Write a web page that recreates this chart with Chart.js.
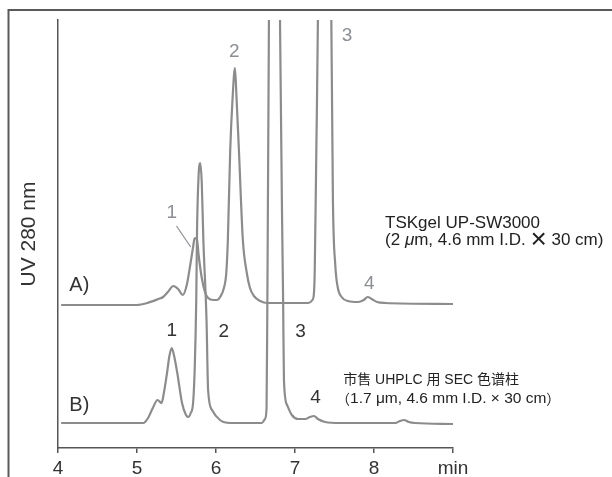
<!DOCTYPE html>
<html>
<head>
<meta charset="utf-8">
<script src="https://cdn.jsdelivr.net/npm/chart.js@4.4.1/dist/chart.umd.min.js"></script>
<style>
  html, body { margin: 0; padding: 0; background: #fff; }
  #wrap { width: 612px; height: 477px; }
</style>
</head>
<body>
<div id="wrap"><canvas id="chrom" width="612" height="477"></canvas></div>
<script>
// retention time (min) / detector response
// A) TSKgel UP-SW3000 (drawn offset above B)
const timeA = [4.04, 5.00, 5.13, 5.27, 5.33, 5.39, 5.46, 5.52, 5.58, 5.63, 5.67, 5.71, 5.73, 5.76, 5.78,
               5.82, 5.86, 5.90, 5.97, 6.01, 6.06, 6.10, 6.13, 6.15, 6.18, 6.21, 6.24, 6.26, 6.29, 6.34,
               6.39, 6.43, 6.48, 6.56, 6.65, 7.16, 7.22, 7.24, 7.25, 7.27, 7.29, 7.37, 7.46, 7.48, 7.51,
               7.54, 7.59, 7.67, 7.80, 7.87, 7.92, 7.97, 8.04, 8.14, 9.00];
const respA = [143, 143, 145, 149, 151, 156, 162, 159, 153, 163, 181, 201, 210, 208, 193,
               170, 156, 150, 148, 148, 152, 160, 175, 208, 298, 350, 380, 350, 298, 208,
               175, 160, 152, 147, 145, 145, 148, 155, 178, 298, 428, 1500, 428, 248, 183,
               161, 151, 147, 146, 148, 151, 149, 146, 145, 144];

// B) commercial UHPLC SEC column
const timeB = [4.04, 5.00, 5.08, 5.14, 5.20, 5.26, 5.31, 5.34, 5.38, 5.41, 5.44, 5.47, 5.51, 5.57, 5.62,
               5.65, 5.68, 5.71, 5.73, 5.75, 5.76, 5.78, 5.80, 5.82, 5.84, 5.88, 5.90, 5.95, 6.05, 6.18,
               6.58, 6.62, 6.64, 6.65, 6.67, 6.74, 6.81, 6.85, 6.86, 6.90, 6.96, 7.04, 7.13, 7.19, 7.24,
               7.29, 7.38, 7.57, 8.27, 8.33, 8.38, 8.44, 8.52, 9.00];
const respB = [25, 25, 25, 30, 40, 48, 45, 55, 75, 92, 100, 92, 75, 45, 33,
               31, 35, 45, 78, 148, 218, 273, 285, 265, 208, 128, 58, 38, 28, 25,
               25, 29, 40, 145, 428, 1500, 428, 145, 68, 43, 33, 29, 29, 31, 32,
               29, 26, 25, 25, 27, 28, 26, 25, 24];

const xTicks = [4, 5, 6, 7, 8, 9];   // last one is printed as "min"

// peak numbers
const peakNumA = ['1', '2', '3', '4'];
const peakTimeA = [5.44, 6.23, 7.66, 7.94];
const peakLevelA = [235, 396, 412, 164];
const peakNumB = ['1', '2', '3', '4'];
const peakTimeB = [5.44, 6.10, 7.07, 7.26];
const peakLevelB = [117, 116, 116, 50];

const SANS = '"Liberation Sans", Arial, "Noto Sans CJK SC", sans-serif';
const CJK = '"Noto Sans CJK SC", sans-serif';

// draw a row of [text, font] pieces starting at x
function drawRuns(ctx, runs, x, y) {
    runs.forEach(([s, f]) => {
        ctx.font = f;
        ctx.fillText(s, x, y);
        x += ctx.measureText(s).width;
    });
}

const annotate = {
    id: 'annotate',
    beforeDraw(chart) {
        // outer frame of the figure (cut off at right/bottom)
        const c = chart.ctx;
        c.save();
        c.strokeStyle = '#5a5a5a';
        c.lineWidth = 2;
        c.beginPath();
        c.moveTo(8.5, 477);
        c.lineTo(8.5, 10);
        c.lineTo(612, 10);
        c.stroke();
        c.restore();
    },
    afterDatasetsDraw(chart) {
        const { ctx, scales: { x, y } } = chart;
        const px = t => x.getPixelForValue(t);
        const py = v => y.getPixelForValue(v);
        ctx.save();
        ctx.textBaseline = 'middle';
        ctx.textAlign = 'center';

        ctx.font = '19px ' + SANS;
        ctx.fillStyle = '#8b8e96';
        peakNumA.forEach((s, i) => ctx.fillText(s, px(peakTimeA[i]), py(peakLevelA[i])));
        ctx.fillStyle = '#333';
        peakNumB.forEach((s, i) => ctx.fillText(s, px(peakTimeB[i]), py(peakLevelB[i])));

        // leader line to A peak 1
        ctx.strokeStyle = '#8b8e96';
        ctx.lineWidth = 1.2;
        ctx.beginPath();
        ctx.moveTo(px(5.50), py(222));
        ctx.lineTo(px(5.68), py(201));
        ctx.stroke();

        ctx.font = '20px ' + SANS;
        ctx.fillStyle = '#333';
        ctx.fillText('A)', px(4.27), py(163));
        ctx.fillText('B)', px(4.27), py(43));

        // column descriptions
        ctx.textAlign = 'left';
        ctx.fillStyle = '#222';
        ctx.font = '17px ' + SANS;
        ctx.fillText('TSKgel UP-SW3000', px(8.14), py(225));
        drawRuns(ctx, [
            ['(2 ', '17px ' + SANS], ['\u03bc', 'italic 17px ' + SANS],
            ['m, 4.6 mm I.D. ', '17px ' + SANS], ['\u00d7', '28px ' + SANS],
            [' 30 cm)', '17px ' + SANS]
        ], px(8.14), py(208));

        ctx.font = '14px ' + SANS;
        ctx.fillText('市售 UHPLC 用 SEC 色谱柱', px(7.61), py(68));
        drawRuns(ctx, [
            ['（', '14px ' + CJK], ['1.7 μm, 4.6 mm I.D. × 30 cm', '15.5px ' + SANS],
            ['）', '14px ' + CJK]
        ], px(7.52), py(49));
        ctx.restore();
    }
};

const ctx = document.getElementById('chrom').getContext('2d');
new Chart(ctx, {
    type: 'line',
    data: {
        datasets: [
            {
                data: timeA.map((t, i) => ({ x: t, y: respA[i] })),
                borderColor: '#8c8c8c',
                borderWidth: 2.2,
                pointRadius: 0,
                cubicInterpolationMode: 'monotone',
                clip: 0
            },
            {
                data: timeB.map((t, i) => ({ x: t, y: respB[i] })),
                borderColor: '#8c8c8c',
                borderWidth: 2.2,
                pointRadius: 0,
                cubicInterpolationMode: 'monotone',
                clip: 0
            }
        ]
    },
    options: {
        responsive: false,
        animation: false,
        layout: { padding: { left: 0, top: 20, right: 159, bottom: 0 } },
        plugins: { legend: { display: false }, tooltip: { enabled: false } },
        scales: {
            x: {
                type: 'linear',
                min: 4,
                max: 9,
                afterBuildTicks: scale => { scale.ticks = xTicks.map(v => ({ value: v })); },
                afterFit: scale => { scale.height = 29; },
                ticks: {
                    color: '#333',
                    padding: 4,
                    maxRotation: 0,
                    autoSkip: false,
                    font: { family: SANS, size: 19 },
                    callback: v => (v === 9 ? 'min' : v)
                },
                grid: { drawOnChartArea: false, tickLength: 5, color: '#555', lineWidth: 1.5 },
                border: { color: '#555', width: 1.5 }
            },
            y: {
                min: 0,
                max: 428,
                afterFit: scale => { scale.width = 58; },
                ticks: { display: false },
                grid: { display: false },
                border: { color: '#555', width: 1.5 },
                title: {
                    display: true,
                    text: 'UV 280 nm',
                    color: '#333',
                    padding: { top: 17, bottom: 0 },
                    font: { family: SANS, size: 21 }
                }
            }
        }
    },
    plugins: [annotate]
});
</script>
</body>
</html>
